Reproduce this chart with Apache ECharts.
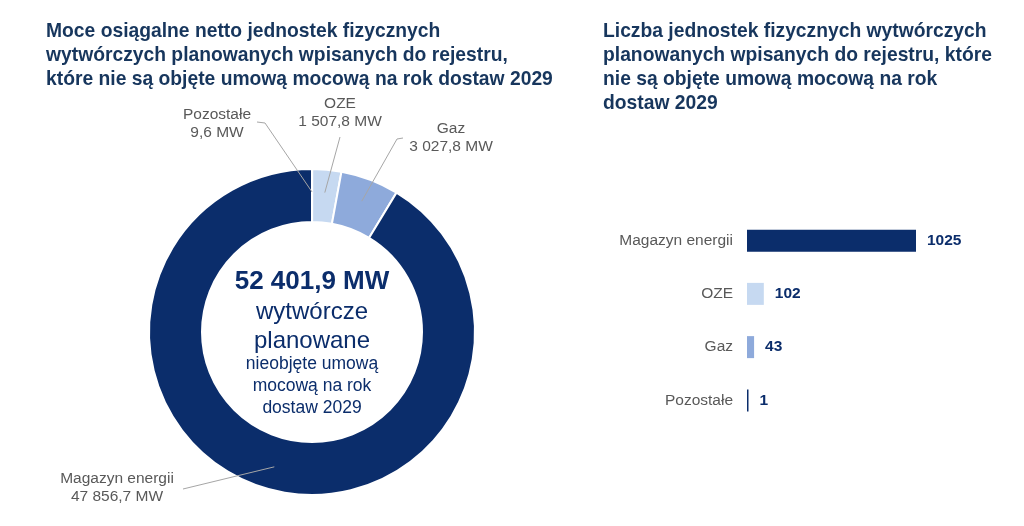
<!DOCTYPE html>
<html>
<head>
<meta charset="utf-8">
<script src="https://cdn.jsdelivr.net/npm/echarts@6/dist/echarts.min.js"></script>
<style>
  html, body { margin: 0; padding: 0; background: #fff; }
  #chart { width: 1024px; height: 526px; }
</style>
</head>
<body>
<div id="chart"></div>
<script>
// dane - moce (MW)
var pieNames = ['Pozostałe', 'OZE', 'Gaz', 'Magazyn energii']
var pieValues = [9.6, 1507.8, 3027.8, 47856.7]
var pieLabels = ['9,6 MW', '1 507,8 MW', '3 027,8 MW', '47 856,7 MW']
var pieTotal = '52 401,9 MW'

// dane - liczba jednostek
var barNames = ['Magazyn energii', 'OZE', 'Gaz', 'Pozostałe']
var barValues = [1025, 102, 43, 1]

var navy = '#0b2d6b'
var colorsPie = [navy, '#c6d9f1', '#8eaadb', navy]
var colorsBar = [navy, '#c6d9f1', '#8eaadb', navy]
var titleColor = '#17365d'
var grey = '#595959'
var font = '"Liberation Sans", Arial, sans-serif'

var pieCenter = [312, 332]
var pieRadius = [110, 163]

// pozycje etykiet wykresu kołowego (środek tekstu, załamanie linii, koniec linii)
var pieLabelPos = [
  { x: 217, y: 124, elbow: [265, 123], end: [257, 122] },
  { x: 340, y: 113, elbow: [340, 137], end: [340, 137] },
  { x: 451, y: 138, elbow: [397, 139], end: [403, 138] },
  { x: 117, y: 488, elbow: [183, 489], end: [183, 489] }
]

// punkt zaczepienia linii w środku pierścienia, w połowie kąta wycinka
function anchorFor(idx) {
  var sum = 0, total = 0
  pieValues.forEach(function (v, i) {
    total += v
    if (i < idx) sum += v
  })
  var a = (sum + pieValues[idx] / 2) / total * Math.PI * 2
  var r = 140
  return [pieCenter[0] + r * Math.sin(a), pieCenter[1] - r * Math.cos(a)]
}

var centerText = [
  { text: pieTotal, y: 282, size: 26, weight: 'bold' },
  { text: 'wytwórcze', y: 312, size: 24, weight: 'normal' },
  { text: 'planowane', y: 341, size: 24, weight: 'normal' },
  { text: 'nieobjęte umową', y: 364, size: 17.5, weight: 'normal' },
  { text: 'mocową na rok', y: 386, size: 17.5, weight: 'normal' },
  { text: 'dostaw 2029', y: 408, size: 17.5, weight: 'normal' }
]

var chart = echarts.init(document.getElementById('chart'))

chart.setOption({
  backgroundColor: '#fff',
  textStyle: { fontFamily: font },
  title: [
    {
      text: 'Moce osiągalne netto jednostek fizycznych\nwytwórczych planowanych wpisanych do rejestru,\nktóre nie są objęte umową mocową na rok dostaw 2029',
      left: 41,
      top: 15,
      textStyle: { color: titleColor, fontSize: 19.3, fontWeight: 'bold', lineHeight: 24, fontFamily: font }
    },
    {
      text: 'Liczba jednostek fizycznych wytwórczych\nplanowanych wpisanych do rejestru, które\nnie są objęte umową mocową na rok\ndostaw 2029',
      left: 598,
      top: 15,
      textStyle: { color: titleColor, fontSize: 19.3, fontWeight: 'bold', lineHeight: 24, fontFamily: font }
    }
  ],
  graphic: centerText.map(function (t) {
    return {
      type: 'text',
      x: pieCenter[0],
      y: t.y,
      silent: true,
      style: {
        text: t.text,
        align: 'center',
        verticalAlign: 'middle',
        fill: navy,
        fontSize: t.size,
        fontWeight: t.weight,
        fontFamily: font
      }
    }
  }),
  grid: {
    left: 747,
    right: 108,
    top: 214,
    bottom: 99
  },
  xAxis: {
    type: 'value',
    min: 0,
    max: 1025,
    show: false
  },
  yAxis: {
    type: 'category',
    data: barNames,
    inverse: true,
    axisLine: { show: false },
    axisTick: { show: false },
    axisLabel: { color: grey, fontSize: 15.5, margin: 14, fontFamily: font }
  },
  series: [
    {
      type: 'pie',
      center: pieCenter,
      radius: pieRadius,
      startAngle: 90,
      clockwise: true,
      silent: true,
      itemStyle: { borderColor: '#fff', borderWidth: 2 },
      label: { show: false },
      labelLine: { show: false },
      data: pieNames.map(function (n, i) {
        return { name: n, value: pieValues[i], itemStyle: { color: colorsPie[i] } }
      })
    },
    {
      // niewidoczna kopia pierścienia - tylko etykiety i linie nad wycinkami
      type: 'pie',
      z: 5,
      center: pieCenter,
      radius: pieRadius,
      startAngle: 90,
      clockwise: true,
      silent: true,
      itemStyle: { color: 'rgba(0,0,0,0)', borderWidth: 0 },
      label: {
        show: true,
        position: 'outside',
        color: grey,
        fontSize: 15.5,
        lineHeight: 18,
        align: 'center',
        fontFamily: font,
        formatter: function (p) {
          return p.name + '\n' + pieLabels[p.dataIndex]
        }
      },
      labelLine: {
        show: true,
        length: 10,
        length2: 6,
        lineStyle: { color: '#a6a6a6', width: 1 }
      },
      labelLayout: function (p) {
        var pos = pieLabelPos[p.dataIndex]
        return {
          x: pos.x,
          y: pos.y,
          align: 'center',
          verticalAlign: 'middle',
          labelLinePoints: [anchorFor(p.dataIndex), pos.elbow, pos.end]
        }
      },
      data: pieNames.map(function (n, i) {
        return { name: n, value: pieValues[i] }
      })
    },
    {
      type: 'bar',
      barWidth: 22,
      barMinHeight: 1.5,
      silent: true,
      label: {
        show: true,
        position: 'right',
        distance: 11,
        color: navy,
        fontSize: 15.5,
        fontWeight: 'bold',
        fontFamily: font
      },
      data: barValues.map(function (v, i) {
        return { value: v, itemStyle: { color: colorsBar[i] } }
      })
    }
  ]
})
</script>
</body>
</html>
